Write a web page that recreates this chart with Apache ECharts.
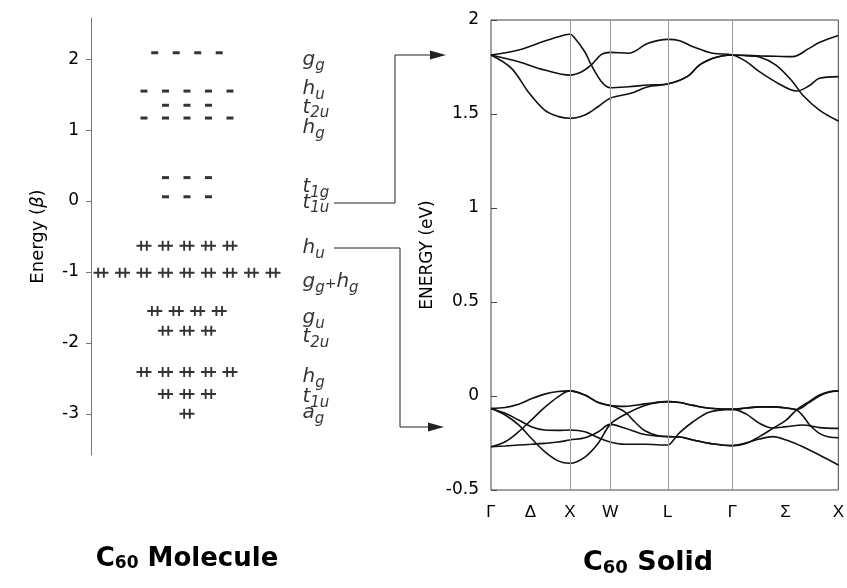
<!DOCTYPE html>
<html><head><meta charset="utf-8">
<script src="https://cdn.jsdelivr.net/npm/echarts@6/dist/echarts.min.js"></script>
<style>html,body{margin:0;padding:0;background:#fff}#c{width:847px;height:588px}</style>
</head><body><div id="c"></div>
<script>
// ---------- C60 molecule (Hückel levels, units of beta) ----------
const levelEnergy     = [2.09, 1.55, 1.35, 1.17, 0.33, 0.06, -0.63, -1.01, -1.55, -1.83, -2.41, -2.72, -3.00];
const levelDegeneracy = [4, 5, 3, 5, 3, 3, 5, 9, 4, 3, 5, 3, 1];
const levelOccupied   = [false, false, false, false, false, false, true, true, true, true, true, true, true];
const levelLabels     = ['g_g', 'h_u', 't_2u', 'h_g', 't_1g', 't_1u', 'h_u', 'g_g+h_g', 'g_u', 't_2u', 'h_g', 't_1u', 'a_g'];
const labelEnergy     = [1.99, 1.58, 1.32, 1.03, 0.20, -0.02, -0.66, -1.14, -1.65, -1.92, -2.48, -2.76, -2.99];
const molTicks        = [-3, -2, -1, 0, 1, 2];

// ---------- C60 solid (band structure, eV) ----------
const kPoints    = [0, 1, 1.51, 2.24, 3.06, 4.40];
const kLabelPos  = [0, 0.5, 1, 1.51, 2.24, 3.06, 3.73, 4.40];
const kLabelText = ['Γ', 'Δ', 'X', 'W', 'L', 'Γ', 'Σ', 'X'];

// conduction (t1u-derived) bands
const cb1 = [[0,1.814],[0.35,1.84],[0.68,1.888],[0.93,1.92],[1.0,1.924],[1.05,1.91],[1.19,1.83],[1.27,1.761],[1.40,1.672],[1.51,1.64],[1.74,1.645],[1.99,1.654],[2.24,1.66],[2.49,1.70],[2.64,1.76],[2.81,1.796],[2.94,1.81],[3.06,1.814],[3.23,1.812],[3.40,1.809],[3.61,1.807],[3.82,1.805],[4.03,1.849],[4.16,1.88],[4.40,1.917]];
const cb2 = [[0,1.814],[0.35,1.778],[0.68,1.734],[1.0,1.707],[1.15,1.725],[1.27,1.761],[1.40,1.817],[1.51,1.828],[1.74,1.823],[1.99,1.876],[2.24,1.897],[2.39,1.89],[2.56,1.858],[2.81,1.823],[3.06,1.814],[3.23,1.78],[3.40,1.725],[3.65,1.66],[3.87,1.622],[4.03,1.65],[4.16,1.69],[4.40,1.699]];
const cb3 = [[0,1.814],[0.26,1.743],[0.47,1.619],[0.68,1.521],[0.86,1.486],[1.0,1.477],[1.19,1.495],[1.36,1.54],[1.51,1.584],[1.77,1.61],[1.99,1.645],[2.24,1.66],[2.49,1.70],[2.64,1.76],[2.81,1.796],[2.94,1.81],[3.06,1.814],[3.23,1.81],[3.40,1.803],[3.61,1.76],[3.82,1.672],[3.95,1.60],[4.16,1.521],[4.40,1.463]];

// valence (hu-derived) bands
const vb1 = [[0,-0.066],[0.18,-0.061],[0.35,-0.044],[0.51,-0.015],[0.68,0.010],[0.85,0.024],[1.0,0.027],[1.19,0.005],[1.36,-0.035],[1.51,-0.051],[1.69,-0.055],[1.95,-0.042],[2.24,-0.030],[2.39,-0.035],[2.56,-0.05],[2.77,-0.065],[3.06,-0.071],[3.23,-0.064],[3.40,-0.058],[3.57,-0.058],[3.74,-0.064],[3.87,-0.072],[4.03,-0.035],[4.16,0.0],[4.28,0.02],[4.40,0.027]];
const vb2 = [[0,-0.270],[0.18,-0.243],[0.35,-0.190],[0.51,-0.128],[0.68,-0.061],[0.85,-0.005],[1.0,0.027],[1.19,0.005],[1.36,-0.035],[1.51,-0.051],[1.69,-0.083],[1.82,-0.137],[1.95,-0.185],[2.12,-0.212],[2.24,-0.216],[2.39,-0.218],[2.56,-0.234],[2.77,-0.252],[3.06,-0.264],[3.23,-0.252],[3.40,-0.216],[3.57,-0.172],[3.74,-0.128],[3.87,-0.074],[4.03,-0.030],[4.16,0.005],[4.28,0.022],[4.40,0.027]];
const vb3 = [[0,-0.066],[0.18,-0.092],[0.35,-0.128],[0.51,-0.163],[0.68,-0.181],[0.85,-0.183],[1.0,-0.181],[1.19,-0.19],[1.36,-0.222],[1.51,-0.245],[1.69,-0.257],[1.95,-0.257],[2.24,-0.261],[2.31,-0.235],[2.39,-0.195],[2.56,-0.137],[2.77,-0.085],[3.06,-0.071],[3.23,-0.095],[3.40,-0.145],[3.57,-0.170],[3.74,-0.163],[3.95,-0.154],[4.16,-0.168],[4.40,-0.172]];
const vb4 = [[0,-0.066],[0.18,-0.101],[0.35,-0.154],[0.51,-0.225],[0.68,-0.296],[0.85,-0.345],[1.0,-0.358],[1.19,-0.325],[1.36,-0.25],[1.51,-0.151],[1.69,-0.10],[1.95,-0.05],[2.24,-0.030],[2.39,-0.035],[2.56,-0.05],[2.77,-0.065],[3.06,-0.071],[3.23,-0.064],[3.40,-0.058],[3.57,-0.058],[3.74,-0.064],[3.87,-0.074],[3.95,-0.105],[4.03,-0.150],[4.16,-0.199],[4.28,-0.218],[4.40,-0.222]];
const vb5 = [[0,-0.270],[0.18,-0.266],[0.35,-0.261],[0.51,-0.257],[0.68,-0.252],[0.85,-0.245],[1.0,-0.234],[1.19,-0.222],[1.36,-0.19],[1.51,-0.151],[1.69,-0.17],[1.95,-0.205],[2.24,-0.216],[2.39,-0.218],[2.56,-0.234],[2.77,-0.252],[3.06,-0.264],[3.23,-0.25],[3.40,-0.229],[3.57,-0.216],[3.74,-0.234],[3.95,-0.270],[4.16,-0.314],[4.40,-0.367]];
const bands = [cb1, cb2, cb3, vb1, vb2, vb3, vb4, vb5];

// ---------- build ----------
const FONT = 'DejaVu Sans';
const INK = '#000';
const emptyMarks = [], filledMarks = [];
levelEnergy.forEach((e, i) => {
  const n = levelDegeneracy[i];
  for (let j = 0; j < n; j++) {
    const pt = [j - (n - 1) / 2, e];
    (levelOccupied[i] ? filledMarks : emptyMarks).push(pt);
  }
});
function richLabel(s) {
  return s.split('+').map(part => {
    const [m, sub] = part.split('_');
    return '{m|' + m + '}{s|' + sub + '}';
  }).join('{p|+}');
}
const labelData = levelLabels.map((t, i) => ({ value: [5.35, labelEnergy[i]], name: t }));

const chart = echarts.init(document.getElementById('c'), null, { renderer: 'canvas' });
const series = [
  { type: 'scatter', xAxisIndex: 0, yAxisIndex: 0, data: emptyMarks, symbol: 'rect', symbolSize: [7, 3],
    itemStyle: { color: INK }, silent: true, z: 3 },
  { type: 'scatter', xAxisIndex: 0, yAxisIndex: 0, data: filledMarks,
    symbol: 'path://M0,4h16v2h-16z M4,0h2v10h-2z M10,0h2v10h-2z', symbolSize: [15, 10],
    itemStyle: { color: INK }, silent: true, z: 3 },
  { type: 'scatter', xAxisIndex: 0, yAxisIndex: 0, data: labelData, symbolSize: 1,
    itemStyle: { color: 'rgba(0,0,0,0)' }, silent: true, clip: false, z: 5,
    label: { show: true, position: 'right', distance: 0, formatter: p => richLabel(p.name),
      rich: {
        m: { fontFamily: FONT, fontStyle: 'italic', fontSize: 20, lineHeight: 20, color: INK },
        s: { fontFamily: FONT, fontStyle: 'italic', fontSize: 15, lineHeight: 15, padding: [12, 0, 0, 0], color: INK },
        p: { fontFamily: FONT, fontSize: 14, lineHeight: 14, padding: [4, 0, 0, 0], color: INK }
      } } }
];
bands.forEach((b, i) => {
  const s = { type: 'line', xAxisIndex: 1, yAxisIndex: 1, data: b, smooth: 0.35, showSymbol: false,
    lineStyle: { color: '#111', width: 1.6 }, silent: true, z: 4 };
  if (i === 0) {
    s.markLine = { silent: true, symbol: 'none', label: { show: false },
      lineStyle: { color: '#999', width: 1, type: 'solid' },
      data: kPoints.slice(1, -1).map(k => ({ xAxis: k })) };
  }
  series.push(s);
});

chart.setOption({
  backgroundColor: '#fff',
  animation: false,
  textStyle: { fontFamily: FONT },
  grid: [
    { left: 91, top: 18, width: 269, height: 437 },
    { left: 491, top: 20, width: 348, height: 470, show: true, borderColor: '#444', borderWidth: 1 }
  ],
  xAxis: [
    { gridIndex: 0, type: 'value', min: -4.465, max: 8.05, show: false },
    { gridIndex: 1, type: 'value', min: 0, max: 4.40, splitLine: { show: false },
      axisLine: { show: false }, axisTick: { show: false },
      axisLabel: { customValues: kLabelPos, margin: 14, fontSize: 17, color: INK, fontFamily: 'Liberation Sans',
        formatter: v => { let best = 0; kLabelPos.forEach((p, i) => { if (Math.abs(p - v) < Math.abs(kLabelPos[best] - v)) best = i; }); return kLabelText[best]; } } }
  ],
  yAxis: [
    { gridIndex: 0, type: 'value', min: -3.58, max: 2.58, splitLine: { show: false },
      axisLine: { show: true, onZero: false, lineStyle: { color: '#777' } },
      axisTick: { show: true, customValues: molTicks, length: 5, lineStyle: { color: '#777' } },
      axisLabel: { customValues: molTicks, margin: 12, fontSize: 17, color: INK },
      name: '{t|Energy (}{b|β}{t|)}', nameLocation: 'middle', nameGap: 44,
      nameTextStyle: { rich: { t: { fontSize: 18, color: INK }, b: { fontSize: 18, fontStyle: 'italic', color: INK } } } },
    { gridIndex: 1, type: 'value', min: -0.5, max: 2, interval: 0.5, splitLine: { show: false },
      axisLine: { show: false, onZero: false },
      axisTick: { show: true, inside: true, length: 6, lineStyle: { color: '#444' } },
      axisLabel: { margin: 12, fontSize: 17, color: INK },
      name: 'ENERGY (eV)', nameLocation: 'middle', nameGap: 55,
      nameTextStyle: { fontSize: 17, color: INK } }
  ],
  series: series,
  graphic: [
    { type: 'polyline', shape: { points: [[334, 203], [395, 203], [395, 55], [432, 55]] }, style: { stroke: '#222', lineWidth: 1, fill: null }, silent: true },
    { type: 'polygon', shape: { points: [[446, 55], [430, 50.5], [430, 59.5]] }, style: { fill: '#222' }, silent: true },
    { type: 'polyline', shape: { points: [[334, 248], [400, 248], [400, 427], [430, 427]] }, style: { stroke: '#222', lineWidth: 1, fill: null }, silent: true },
    { type: 'polygon', shape: { points: [[444, 427], [428, 422.5], [428, 431.5]] }, style: { fill: '#222' }, silent: true },
    { type: 'text', x: 187, y: 559, style: { text: '{a|C}{b|60}{a| Molecule}', align: 'center', verticalAlign: 'middle',
      rich: { a: { fontFamily: FONT, fontWeight: 'bold', fontSize: 26, fill: INK }, b: { fontFamily: FONT, fontWeight: 'bold', fontSize: 17, padding: [10, 0, 0, 0], fill: INK } } } },
    { type: 'text', x: 648, y: 563, style: { text: '{a|C}{b|60}{a| Solid}', align: 'center', verticalAlign: 'middle',
      rich: { a: { fontFamily: FONT, fontWeight: 'bold', fontSize: 27, fill: INK }, b: { fontFamily: FONT, fontWeight: 'bold', fontSize: 18, padding: [10, 0, 0, 0], fill: INK } } } }
  ]
});
</script></body></html>
